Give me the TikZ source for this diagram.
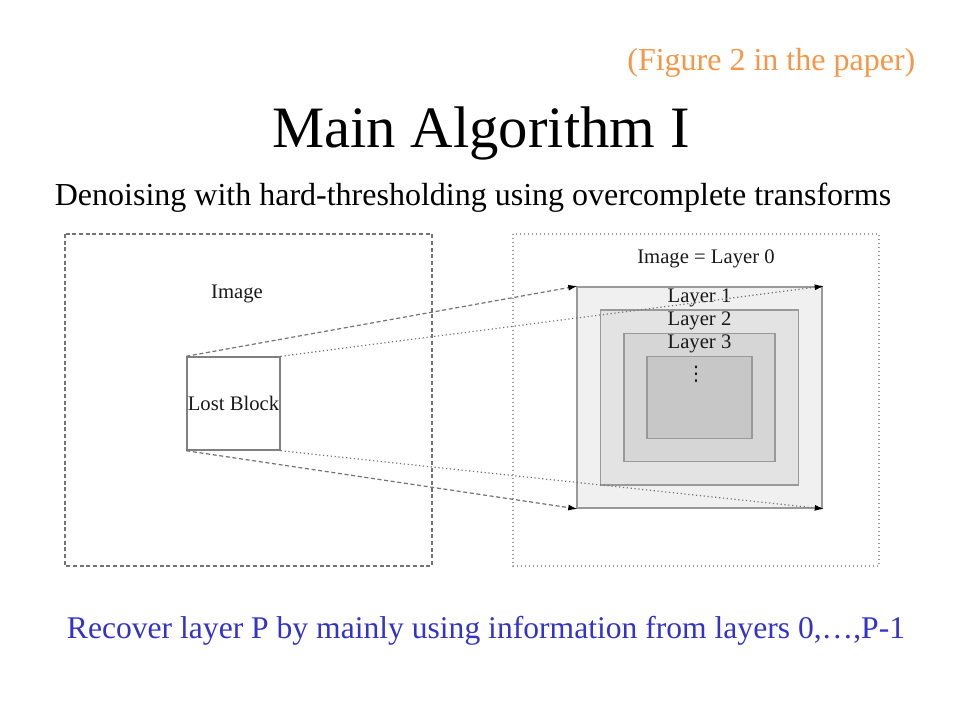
\documentclass[tikz,border=0pt]{standalone}
\usepackage{fontspec}
\setmainfont{Liberation Serif}
\newfontfamily\symfont{DejaVu Sans}
\usepackage{xcolor}
\usetikzlibrary{arrows.meta}
\definecolor{figorange}{HTML}{F79646}
\definecolor{recblue}{HTML}{3333CC}
\tikzstyle{layer}=[draw=black!40, line width=1.1pt, inner sep=0pt]
\tikzstyle{tag}=[font=\fontsize{15.5}{18}\selectfont, text=black!90, inner sep=0pt]
\tikzstyle{wire}=[draw=black!55, line width=0.9pt, -{Latex[black,length=7pt,width=4.5pt]}, shorten >=-1pt]
\newcommand{\layer}{\node[layer]}
\newcommand{\figtext}{\node[tag]}

\begin{document}
\begin{tikzpicture}[x=0.75pt,y=-0.75pt]
\useasboundingbox (0,0) rectangle (960,720);
\node[anchor=east, text=figorange, font=\fontsize{24}{28}\selectfont] (fig) at (920,63) {(Figure 2 in the paper)};
\node[font=\fontsize{44}{52}\selectfont] (title) at (481,133) {Main Algorithm I};
\node[font=\fontsize{24}{28}\selectfont] (sub) at (473,198) {Denoising with hard-thresholding using overcomplete transforms};
\node[text=recblue, font=\fontsize{23.7}{28}\selectfont] (rec) at (486,631) {Recover layer P by mainly using information from layers 0,…,P-1};
\draw[black!55, line width=1pt, dash pattern=on 3pt off 2pt] (65,234) rectangle (432,566);
\draw[black!40, line width=1pt, dotted] (513,234) rectangle (879,566);
\figtext (img) at (237,294) {Image};
\figtext (img0) at (706,259) {Image = Layer 0};
\node[layer, draw=black!50, minimum size=69.75pt] (block) at (233.5,403.5) {};
\figtext (lost) at (block.center) {Lost Block};
\foreach \i/\w/\h/\s in {1/245/221/6, 2/198/175/11, 3/151/128/16, 4/105/82/22}{
	\layer[fill=black!\s, minimum width=\w*0.75pt, minimum height=\h*0.75pt] (L\i) at (699.5,397.5) {};
	}
\foreach \i in {1,2,3}{
	\figtext (t\i) at ([yshift=-8.5pt]L\i.north) {Layer \i};
	}
\node[tag, font=\symfont\fontsize{15}{17}\selectfont] (dots) at (696,374) {⋮};
\draw[wire, dash pattern=on 3pt off 2pt] (block.north west) -- (L1.north west);
\draw[wire, dash pattern=on 3pt off 2pt] (block.south west) -- (L1.south west);
\draw[wire, dotted] (block.north east) -- (L1.north east);
\draw[wire, dotted] (block.south east) -- (L1.south east);
\end{tikzpicture}
\end{document}
